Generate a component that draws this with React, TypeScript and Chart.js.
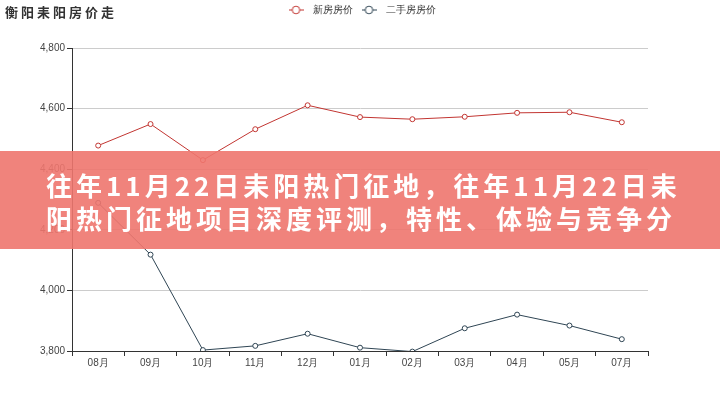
import React, { useEffect, useRef } from "react";
import { Chart, registerables } from "chart.js";

Chart.register(...registerables);

const chartTitle = "衡阳耒阳房价走";
const bannerLines = [
  "往年11月22日耒阳热门征地，往年11月22日耒",
  "阳热门征地项目深度评测，特性、体验与竞争分",
];
const months = ["08月", "09月", "10月", "11月", "12月", "01月", "02月", "03月", "04月", "05月", "07月"];
const newHousePrice = [4478, 4549, 4430, 4532, 4611, 4572, 4565, 4573, 4586, 4588, 4555];
const secondHandPrice = [4289, 4118, 3803, 3817, 3857, 3811, 3798, 3875, 3920, 3884, 3839];
const seriesNames = ["新房房价", "二手房房价"];
const seriesColors = ["#c23531", "#2f4554"];
const yMin = 3800;
const yMax = 4800;
const yStep = 200;

function legendIcon(color: string): HTMLCanvasElement {
  const c = document.createElement("canvas");
  c.width = 15;
  c.height = 10;
  const ctx = c.getContext("2d")!;
  ctx.strokeStyle = color;
  ctx.lineWidth = 1;
  ctx.beginPath();
  ctx.moveTo(0, 5);
  ctx.lineTo(15, 5);
  ctx.stroke();
  ctx.beginPath();
  ctx.arc(7.5, 5, 3.8, 0, Math.PI * 2);
  ctx.fillStyle = "#fff";
  ctx.fill();
  ctx.stroke();
  return c;
}

export default function App() {
  const ref = useRef<HTMLCanvasElement>(null);

  useEffect(() => {
    if (!ref.current) return;
    const icons = seriesColors.map(legendIcon);
    const chart = new Chart(ref.current, {
      type: "line",
      data: {
        labels: months,
        datasets: [newHousePrice, secondHandPrice].map((d, i) => ({
          label: seriesNames[i],
          data: d,
          borderColor: seriesColors[i],
          backgroundColor: "#fff",
          borderWidth: 1,
          pointRadius: 2.5,
          pointBorderWidth: 1,
          pointBackgroundColor: "#fff",
          pointBorderColor: seriesColors[i],
          tension: 0,
          fill: false,
        })),
      },
      options: {
        responsive: false,
        animation: false,
        events: [],
        layout: { padding: { top: 1, left: 0, right: 0, bottom: 0 } },
        plugins: {
          title: { display: false },
          tooltip: { enabled: false },
          legend: {
            display: true,
            position: "top",
            align: "center",
            labels: {
              usePointStyle: true,
              pointStyleWidth: 24,
              padding: 4,
              color: "#333",
              font: { size: 10, family: "'Liberation Sans', Arial, sans-serif" },
              generateLabels: (ch: any) => {
                const items = Chart.defaults.plugins.legend.labels.generateLabels(ch);
                return items.map((it: any, i: number) => ({ ...it, pointStyle: icons[i] }));
              },
            },
          },
        },
        scales: {
          x: {
            type: "category",
            offset: true,
            grid: {
              display: true,
              drawOnChartArea: false,
              drawTicks: true,
              tickLength: 5,
              tickColor: "#333",
              offset: true,
            },
            border: { display: true, color: "#333", width: 1 },
            ticks: {
              color: "#444",
              padding: 1,
              maxRotation: 0,
              autoSkip: false,
              font: { size: 10, family: "'Liberation Sans', Arial, sans-serif" },
            },
            afterFit: (s: any) => {
              s.height = 49;
            },
          },
          xTop: {
            type: "category",
            position: "top",
            display: true,
            grid: { display: false },
            border: { display: false },
            ticks: { display: false },
            afterFit: (s: any) => {
              s.height = 23;
            },
          },
          y: {
            type: "linear",
            position: "left",
            min: yMin,
            max: yMax,
            grid: {
              color: "#ccc",
              lineWidth: 1,
              drawTicks: true,
              tickLength: 5,
              tickColor: "#333",
            },
            border: { display: true, color: "#333", width: 1 },
            ticks: {
              stepSize: yStep,
              color: "#444",
              padding: 2,
              font: { size: 10, family: "'Liberation Sans', Arial, sans-serif" },
              callback: (v: any) => Number(v).toLocaleString("en-US"),
            },
            afterFit: (s: any) => {
              s.width = 72;
            },
          },
          yRight: {
            type: "linear",
            position: "right",
            display: true,
            grid: { display: false },
            border: { display: false },
            ticks: { display: false },
            afterFit: (s: any) => {
              s.width = 72;
            },
          },
        },
      } as any,
    });
    return () => chart.destroy();
  }, []);

  return (
    <div style={{ position: "fixed", left: 0, top: 0, width: 720, height: 400, background: "#fff", overflow: "hidden" }}>
      <canvas ref={ref} width={720} height={400} style={{ position: "absolute", left: 0, top: 0, width: 720, height: 400 }} />
      <div
        style={{
          position: "absolute",
          left: 5,
          top: 0,
          height: 24,
          lineHeight: "24px",
          fontSize: 13,
          fontWeight: "bold",
          letterSpacing: 3,
          color: "#333",
          fontFamily: "'Noto Sans CJK SC', 'Noto Sans', sans-serif",
        }}
      >
        {chartTitle}
      </div>
      <div
        style={{
          position: "absolute",
          left: 0,
          top: 151,
          width: 720,
          height: 98,
          background: "rgba(238,118,110,0.9)",
          boxSizing: "border-box",
          paddingTop: 17,
          paddingLeft: 46,
          color: "#fff",
          fontSize: 26,
          fontWeight: "bold",
          letterSpacing: 4,
          lineHeight: "33px",
          whiteSpace: "nowrap",
          overflow: "hidden",
          fontFamily: "'Noto Sans CJK SC', 'Noto Sans', sans-serif",
        }}
      >
        {bannerLines.map((l, i) => (
          <div key={i}>{l}</div>
        ))}
      </div>
    </div>
  );
}
